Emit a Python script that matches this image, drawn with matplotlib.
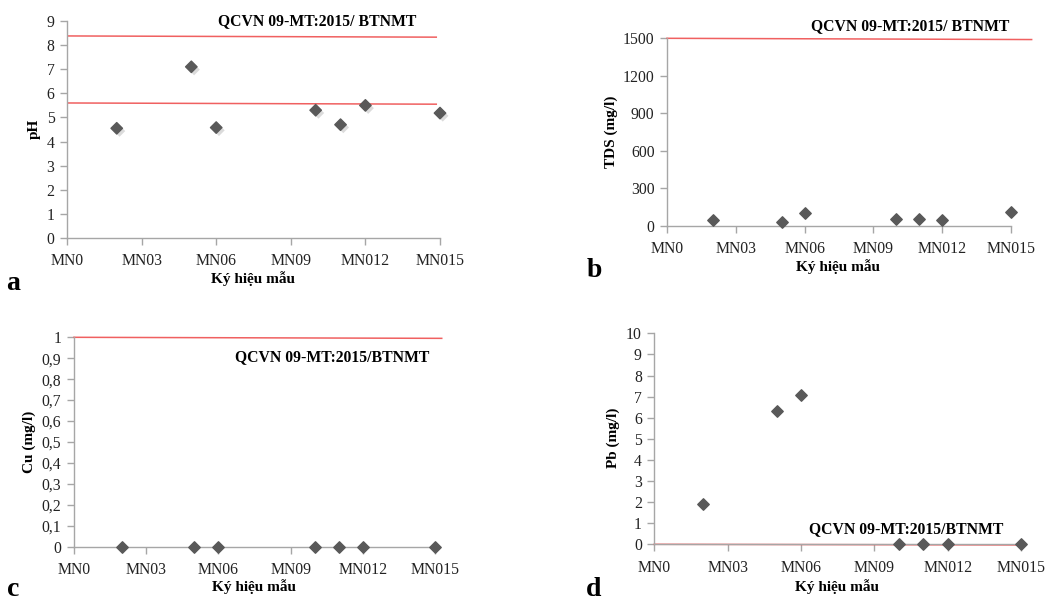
import matplotlib
matplotlib.use("Agg")
import matplotlib.pyplot as plt
import matplotlib.patheffects as pe

plt.rcParams['font.family'] = ['Liberation Serif', 'DejaVu Serif']

# ---------------- data ----------------
tick_pos = [0, 3, 6, 9, 12, 15]
tick_labels = ["MN0", "MN03", "MN06", "MN09", "MN012", "MN015"]
sample_x = [2, 5, 6, 10, 11, 12, 15]

ph_values = [4.55, 7.1, 4.58, 5.3, 4.7, 5.5, 5.18]
tds_values = [43, 32, 102, 56, 51, 43, 107]
cu_values = [0, 0, 0, 0, 0, 0, 0]
pb_x = [2, 5, 6, 10, 11, 12, 15]
pb_values = [1.9, 6.3, 7.08, 0, 0, 0, 0]

# standard (QCVN) limit lines: x extent and y at start/end
ph_limit_x = [0.05, 14.85]
ph_upper = [8.38, 8.33]
ph_lower = [5.60, 5.55]
tds_limit_x = [0.0, 15.9]
tds_limit = [1500, 1490]
cu_limit_x = [0.0, 15.28]
cu_limit = [1.0, 0.995]
pb_limit_x = [0.0, 15.0]
pb_limit = [0.0, -0.03]

W, H = 1058, 601
fig = plt.figure(figsize=(W / 100, H / 100), dpi=100)

RED = "#f06060"
MARK = "#595959"
SPINE = "#a6a6a6"
MS = 34


def make_ax(box):
    l, r, t, b = box
    ax = fig.add_axes([l / W, 1 - b / H, (r - l) / W, (b - t) / H])
    for s in ["top", "right"]:
        ax.spines[s].set_visible(False)
    for s in ["left", "bottom"]:
        ax.spines[s].set_color(SPINE)
        ax.spines[s].set_linewidth(1.0)
    ax.tick_params(axis="both", direction="out", length=5, width=1,
                   color=SPINE, labelsize=11.3, labelcolor="#222222")
    ax.tick_params(axis="y", pad=4)
    ax.tick_params(axis="x", pad=6)
    ax.set_xlim(0, 15)
    ax.set_xticks(tick_pos)
    ax.set_xticklabels(tick_labels)
    ax.patch.set_alpha(0)
    return ax


def place_labels(ax, box, xl, yl, xlabel, ylabel):
    l, r, t, b = box
    ax.set_xlabel(xlabel, fontsize=11, fontweight="bold", va="center", ha="center")
    ax.xaxis.set_label_coords((xl[0] - l) / (r - l), (b - xl[1]) / (b - t))
    ax.set_ylabel(ylabel, fontsize=11, fontweight="bold", va="center", ha="center")
    ax.yaxis.set_label_coords((yl[0] - l) / (r - l), (b - yl[1]) / (b - t))


def ftext(x, y, s, **kw):
    fig.text(x / W, 1 - y / H, s, **kw)


qkw = dict(fontsize=11.3, fontweight="bold", ha="center", va="center")
lkw = dict(fontsize=20, fontweight="bold", ha="center", va="baseline")

# ---------- a: pH ----------
box_a = (67, 440, 21, 238)
ax = make_ax(box_a)
ax.set_ylim(0, 9)
ax.set_yticks(range(0, 10))
ax.plot(ph_limit_x, ph_upper, color=RED, lw=1.1, clip_on=False)
ax.plot(ph_limit_x, ph_lower, color=RED, lw=1.1, clip_on=False)
sc = ax.scatter(sample_x, ph_values, marker="D", s=MS, color=MARK, zorder=3, clip_on=False)
sc.set_path_effects([pe.SimplePatchShadow(offset=(2, -2), shadow_rgbFace="#999999", alpha=0.35), pe.Normal()])
place_labels(ax, box_a, (253, 279), (34, 129), "Ký hiệu mẫu", "pH")
ftext(317, 21, "QCVN 09-MT:2015/ BTNMT", **qkw)
ftext(13, 290, "a", **lkw)

# ---------- b: TDS ----------
box_b = (667, 1011, 38.3, 225.7)
ax = make_ax(box_b)
ax.set_ylim(0, 1500)
ax.set_yticks(range(0, 1501, 300))
ax.plot(tds_limit_x, tds_limit, color=RED, lw=1.1, clip_on=False)
ax.scatter(sample_x, tds_values, marker="D", s=MS, color=MARK, zorder=3, clip_on=False)
place_labels(ax, box_b, (838, 267), (611, 132), "Ký hiệu mẫu", "TDS (mg/l)")
ftext(910, 26, "QCVN 09-MT:2015/ BTNMT", **qkw)
ftext(594, 277, "b", **lkw)

# ---------- c: Cu ----------
box_c = (74, 435, 337.3, 546.7)
ax = make_ax(box_c)
ax.set_ylim(0, 1)
yt = [i / 10 for i in range(11)]
ax.set_yticks(yt)
ax.set_yticklabels(["0"] + [f"0,{i}" for i in range(1, 10)] + ["1"])
ax.plot(cu_limit_x, cu_limit, color=RED, lw=1.1, clip_on=False)
ax.scatter(sample_x, cu_values, marker="D", s=MS, color=MARK, zorder=3, clip_on=False)
place_labels(ax, box_c, (254, 587), (29, 442), "Ký hiệu mẫu", "Cu (mg/l)")
ftext(332, 357, "QCVN 09-MT:2015/BTNMT", **qkw)
ftext(13, 596, "c", **lkw)

# ---------- d: Pb ----------
box_d = (654.3, 1021, 333.3, 544.3)
ax = make_ax(box_d)
ax.set_ylim(0, 10)
ax.set_yticks(range(0, 11))
ax.plot(pb_limit_x, pb_limit, color=RED, lw=1.1, clip_on=False, zorder=2)
ax.scatter(pb_x, pb_values, marker="D", s=MS, color=MARK, zorder=3, clip_on=False)
place_labels(ax, box_d, (837, 587), (613, 438), "Ký hiệu mẫu", "Pb (mg/l)")
ftext(906, 529, "QCVN 09-MT:2015/BTNMT", **qkw)
ftext(594, 596, "d", **lkw)

fig.savefig("out.png", dpi=100)
